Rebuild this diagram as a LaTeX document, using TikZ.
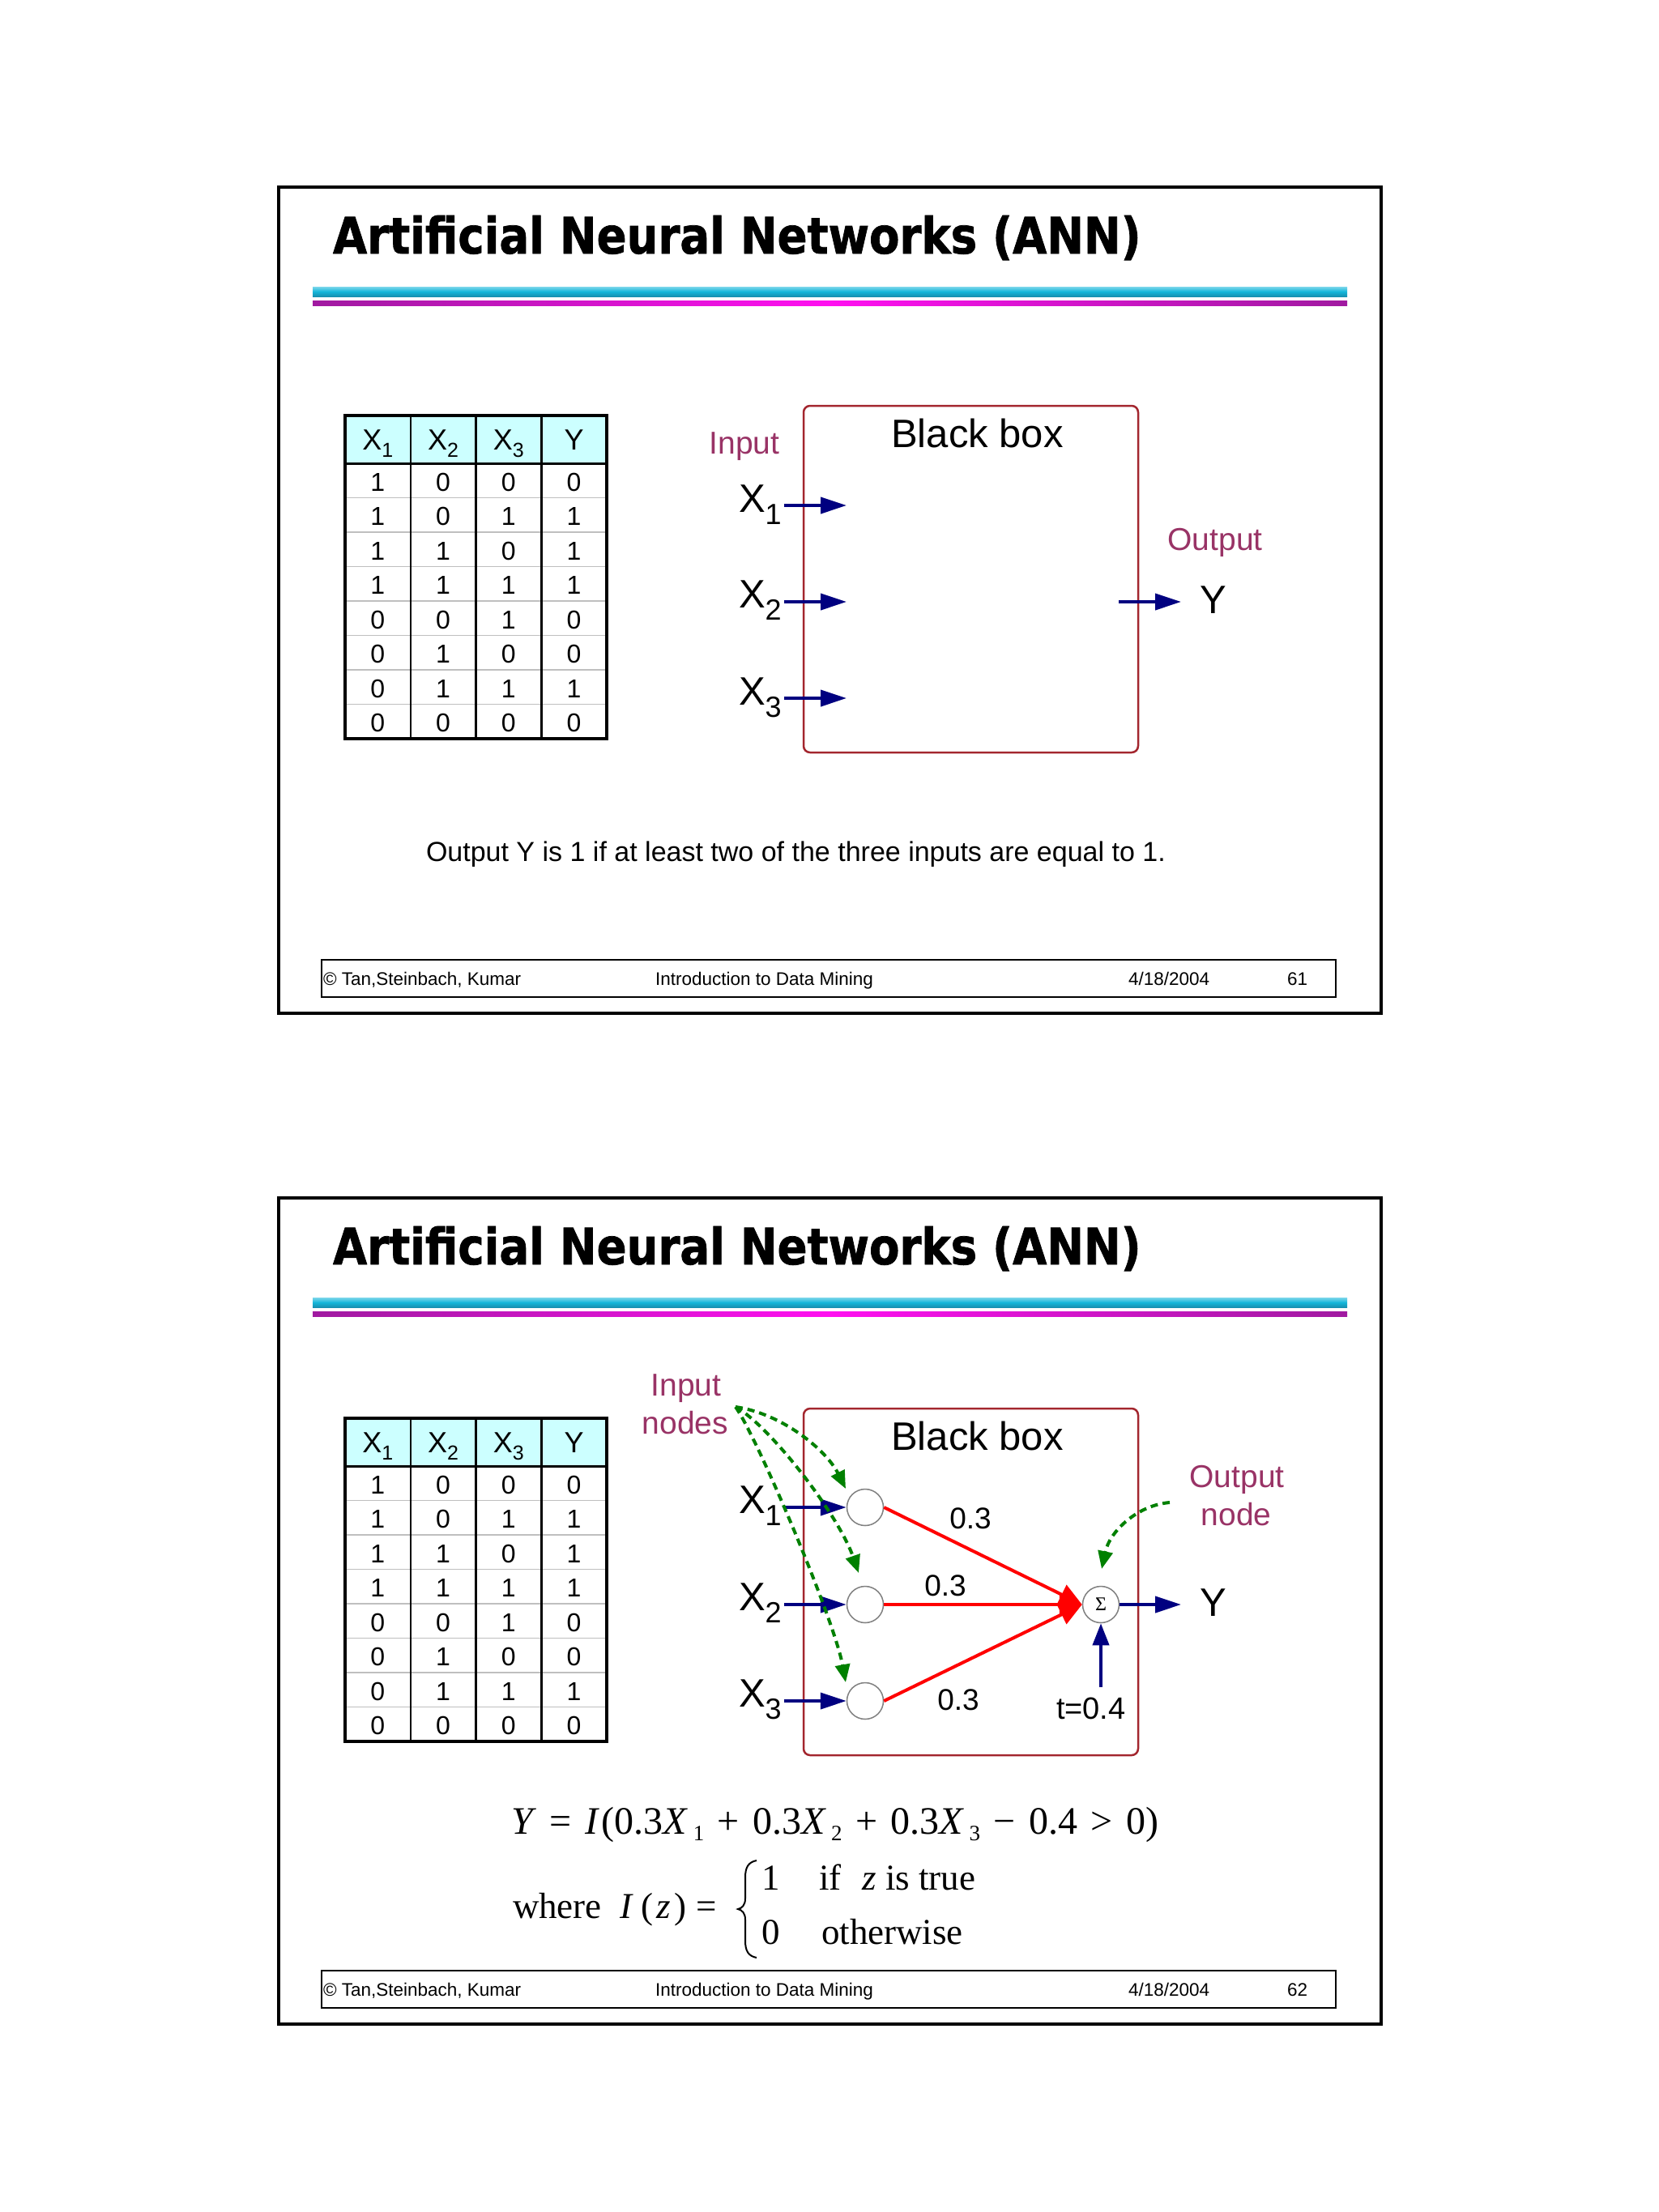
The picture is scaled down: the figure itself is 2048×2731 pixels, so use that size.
\documentclass[tikz,border=0pt]{standalone}
\usepackage{fontspec}
\usepackage{graphicx}
\setmainfont{Liberation Sans}
\newfontfamily\titlefont[FakeStretch=0.88,FakeBold=1.2]{DejaVu Sans}
\newfontfamily\serfont{Liberation Serif}
\usetikzlibrary{arrows.meta}
\definecolor{navyc}{HTML}{000080}
\definecolor{plum}{HTML}{993366}
\definecolor{boxred}{HTML}{A3262E}
\definecolor{hdrcyan}{HTML}{CCFFFF}
\definecolor{gline}{HTML}{008000}
\definecolor{barcyan}{HTML}{14B6DA}
\definecolor{barcyandk}{HTML}{1690B0}
\definecolor{barmag}{HTML}{FF10F0}
\definecolor{barmagdk}{HTML}{A01AA0}
\newcommand\fsz[1]{\fontsize{#1}{#1}\selectfont}
\newcommand\xlab[1]{\fsz{49}X\raisebox{-15pt}{\fsz{36}#1}}
\newcommand\hlab[1]{\fsz{36}X\raisebox{-9pt}{\fsz{25}#1}}
\newcommand\fsubs[1]{\kern6pt\raisebox{-8pt}{\fsz{27}#1}}
\newcommand\gp{\kern16.5pt}
\tikzset{
  txt/.style={inner sep=0pt, outer sep=0pt},
  navyarrow/.style={draw=navyc, line width=4pt, -{Triangle[length=32pt,width=20pt]}},
  redarrow/.style={draw=red, line width=4pt, -{Triangle[length=28pt,width=26pt]}},
  greenarrow/.style={draw=gline, line width=4pt, dash pattern=on 9pt off 6pt, -{Triangle[length=22pt,width=18pt]}},
  neuron/.style={circle, draw=gray, line width=1.5pt, fill=white, minimum size=45pt, inner sep=0pt},
  blackbox/.style={draw=boxred, line width=2.5pt, rounded corners=8pt},
  rowline/.style={draw=gray!50, line width=1.5pt},
  colline/.style={draw=black, line width=2.5pt},
  lbl/.style={txt, text=plum, font=\fsz{39}},
  fm/.style={txt, anchor=base west, font=\serfont\fsz{48}},
  fm2/.style={txt, anchor=base west, font=\serfont\fsz{45}},
  foot/.style={txt, anchor=base west, font=\fsz{22.5}},
}
\newcommand\slidebase[3]{%
\begin{scope}[yshift=-#2pt]
  \draw[line width=4pt] (343.5,231) rectangle (1704.5,1250.5);
  \node[txt,anchor=base west] (#1title) at (411,313) {\titlefont\bfseries\fsz{62}Artificial Neural Networks (ANN)};
  \shade[top color=barcyan!55!white, bottom color=barcyandk, middle color=barcyan] (386,354) rectangle (1663,366);
  \shade[left color=barmagdk, right color=barmagdk, middle color=barmag] (386,371) rectangle (1663,377);
  \draw[line width=2pt] (397,1185) rectangle (1649,1231);
  \node[foot] (#1fa) at (399,1216) {© Tan,Steinbach, Kumar};
  \node[foot] (#1fb) at (809,1216) {Introduction to Data Mining};
  \node[foot] (#1fc) at (1393,1216) {4/18/2004};
  \node[foot] (#1fd) at (1589,1216) {#3};
\end{scope}}
\newcommand\truthtable[2]{%
\begin{scope}[yshift=-#2pt]
  \fill[hdrcyan] (426,513) rectangle (749,572);
  \foreach \k in {1,...,7}{\draw[rowline] (426,{572+42.5*\k}) -- (749,{572+42.5*\k});}
  \foreach \xx in {506.75,587.5,668.25}{\draw[colline] (\xx,513) -- (\xx,912);}
  \draw[colline, line width=3pt] (426,572) -- (749,572);
  \draw[line width=3.5pt] (426,513) rectangle (749,912);
  \node[txt,anchor=base] (#1hA) at (466.4,555) {\hlab{1}};
  \node[txt,anchor=base] (#1hB) at (547.1,555) {\hlab{2}};
  \node[txt,anchor=base] (#1hC) at (627.9,555) {\hlab{3}};
  \node[txt,anchor=base] (#1hD) at (708.6,555) {\fsz{36}Y};
  \foreach \row [count=\ri] in {{1,0,0,0},{1,0,1,1},{1,1,0,1},{1,1,1,1},{0,0,1,0},{0,1,0,0},{0,1,1,1},{0,0,0,0}}{%
    \foreach \v [count=\ci] in \row {%
      \node[txt,anchor=base] (#1d\ri\ci) at ({426+80.75*(\ci-0.5)},{606+42.5*(\ri-1)}) {\fsz{32}\v};}}
\end{scope}}
\begin{document}
\begin{tikzpicture}[x=1pt,y=-1pt]
\useasboundingbox (0,0) rectangle (2048,2731);
\fill[white] (0,0) rectangle (2048,2731);

% ---------------- slide 1 ----------------
\slidebase{a}{0}{61}
\truthtable{a}{0}
\draw[blackbox] (992,501) rectangle (1405,929);
\node[txt,anchor=base] (abb) at (1206.5,552) {\fsz{49}Black box};
\node[lbl,anchor=base] (ain) at (919,560) {Input};
\node[txt,anchor=base west] (ax1) at (912,632) {\xlab{1}};
\node[txt,anchor=base west] (ax2) at (912,750) {\xlab{2}};
\node[txt,anchor=base west] (ax3) at (912,870) {\xlab{3}};
\coordinate (as1) at (968,624); \coordinate (ae1) at (1045,624);
\coordinate (as2) at (968,743); \coordinate (ae2) at (1045,743);
\coordinate (as3) at (968,862); \coordinate (ae3) at (1045,862);
\draw[navyarrow] (as1) -- (ae1);
\draw[navyarrow] (as2) -- (ae2);
\draw[navyarrow] (as3) -- (ae3);
\node[lbl,anchor=base] (aout) at (1500,679) {Output};
\node[txt,anchor=base west] (ay) at (1481,757) {\fsz{49}Y};
\coordinate (aos) at (1381,743); \coordinate (aoe) at (1458,743);
\draw[navyarrow] (aos) -- (aoe);
\node[txt,anchor=base west] (astmt) at (526,1063) {\fsz{34}Output Y is 1 if at least two of the three inputs are equal to 1.};

% ---------------- slide 2 ----------------
\slidebase{b}{1248}{62}
\truthtable{b}{1238}
\draw[blackbox] (992,1739) rectangle (1405,2167);
\node[txt,anchor=base] (bbb) at (1206.5,1790) {\fsz{49}Black box};
\node[lbl,anchor=base] (bin1) at (847,1723) {Input};
\node[lbl,anchor=base] (bin2) at (846,1770) {nodes};
\node[lbl,anchor=base] (bout1) at (1527,1836) {Output};
\node[lbl,anchor=base] (bout2) at (1526,1883) {node};
\node[txt,anchor=base west] (bx1) at (912,1868) {\xlab{1}};
\node[txt,anchor=base west] (bx2) at (912,1988) {\xlab{2}};
\node[txt,anchor=base west] (bx3) at (912,2107) {\xlab{3}};
\node[neuron] (c1) at (1068,1861) {};
\node[neuron] (c2) at (1068,1981) {};
\node[neuron] (c3) at (1068,2100) {};
\node[neuron] (sig) at (1359,1981) {\serfont\fsz{24}Σ};
\coordinate (bs1) at (968,1861);
\coordinate (bs2) at (968,1981);
\coordinate (bs3) at (968,2100);
\draw[navyarrow] (bs1) -- (c1.west);
\draw[navyarrow] (bs2) -- (c2.west);
\draw[navyarrow] (bs3) -- (c3.west);
\draw[redarrow] (c1.east) -- (sig.west);
\draw[redarrow] (c2.east) -- (sig.west);
\draw[redarrow] (c3.east) -- (sig.west);
\node[txt,anchor=base] (w1) at (1198,1887) {\fsz{37}0.3};
\node[txt,anchor=base] (w2) at (1167,1970) {\fsz{37}0.3};
\node[txt,anchor=base] (w3) at (1183,2111) {\fsz{37}0.3};
\node[txt,anchor=base west] (thr) at (1304,2122) {\fsz{38}t=0.4};
\coordinate (ths) at (1359,2083);
\draw[draw=navyc, line width=4pt, -{Triangle[length=27pt,width=20pt]}] (ths) -- (sig.south);
\coordinate (bye) at (1458,1981);
\draw[navyarrow] (sig.east) -- (bye);
\node[txt,anchor=base west] (by) at (1481,1995) {\fsz{49}Y};
% green pointers
\coordinate (gsrc) at (908,1737);
\coordinate (gt1) at (1044,1838);
\coordinate (gt2) at (1060,1942);
\coordinate (gt3) at (1044,2077);
\coordinate (osrc) at (1444,1855);
\coordinate (ot) at (1360,1937);
\draw[greenarrow] (gsrc) .. controls (965,1745) and (1020,1790) .. (gt1);
\draw[greenarrow] (gsrc) .. controls (950,1760) and (1035,1870) .. (gt2);
\draw[greenarrow] (gsrc) .. controls (935,1775) and (1030,2000) .. (gt3);
\draw[greenarrow] (osrc) .. controls (1405,1858) and (1370,1890) .. (ot);

% formula line 1
\node[fm] (feqn) at (631,2264) {\itshape Y\/\upshape\gp=\gp\itshape I\/\upshape\kern3pt(0.3\itshape X\/\upshape\fsubs{1}\gp+\gp0.3\itshape X\/\upshape\fsubs{2}\gp+\gp0.3\itshape X\/\upshape\fsubs{3}\gp−\gp0.4\gp>\gp0)};
% formula line 2
\node[fm2] (fwhere) at (633,2368) {where};
\node[fm2] (fI2) at (765,2368) {\itshape I};
\node[fm2] (fpo) at (791,2368) {(};
\node[fm2] (fz) at (810,2368) {\itshape z};
\node[fm2] (fpc) at (832,2368) {)};
\node[fm2] (feq2) at (859,2368) {=};
\draw[line width=2pt] (934,2297) .. controls (924,2299) and (920,2305) .. (920,2318) -- (920,2344) .. controls (920,2352) and (916,2356) .. (911,2357) .. controls (916,2358) and (920,2362) .. (920,2370) -- (920,2396) .. controls (920,2409) and (924,2415) .. (934,2417);
\node[fm2] (fone) at (940,2333) {1};
\node[fm2] (fif) at (1011,2333) {if};
\node[fm2] (fz2) at (1064,2333) {\itshape z};
\node[fm2] (fis) at (1093,2333) {is true};
\node[fm2] (fzero) at (940,2400) {0};
\node[fm2] (fother) at (1014,2400) {otherwise};
\end{tikzpicture}
\end{document}
